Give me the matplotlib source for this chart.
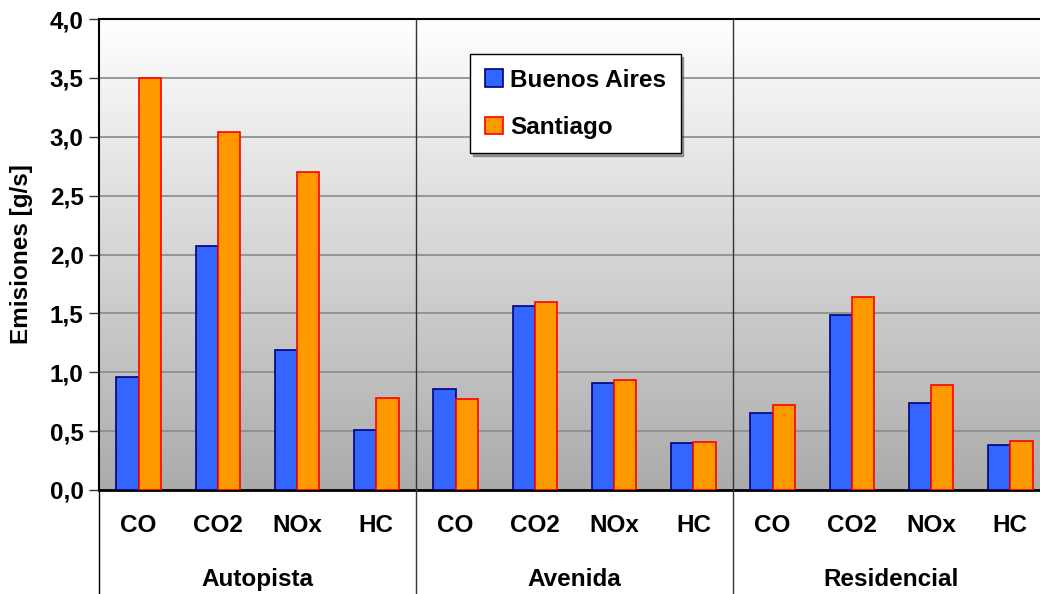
import matplotlib.pyplot as plt
import numpy as np
from matplotlib.colors import LinearSegmentedColormap

plt.rcParams['font.family'] = ['Liberation Sans', 'DejaVu Sans']
plt.rcParams['font.weight'] = 'bold'

grupos = ['Autopista', 'Avenida', 'Residencial']
contaminantes = ['CO', 'CO2', 'NOx', 'HC']
buenos_aires = [0.96, 2.07, 1.19, 0.51,
                0.86, 1.56, 0.91, 0.40,
                0.65, 1.49, 0.74, 0.38]
santiago = [3.50, 3.04, 2.70, 0.78,
            0.77, 1.60, 0.93, 0.41,
            0.72, 1.64, 0.89, 0.42]
yticks = np.arange(0, 4.01, 0.5)

FS = 17.5
W, H = 1040, 594
fig = plt.figure(figsize=(W / 100, H / 100), dpi=100)
# right edge of the plot runs past the figure border
ax = fig.add_axes([99 / W, 1 - 490 / H, 951 / W, 471 / H])

n = len(buenos_aires)
x = np.arange(n)

# vertical white-to-grey gradient background
grad = np.linspace(1, 0, 256).reshape(-1, 1)
cmap = LinearSegmentedColormap.from_list('fondo', ['#ababab', '#ffffff'])
ax.imshow(grad, aspect='auto', cmap=cmap, extent=(-0.5, n - 0.5, 0, 4.0),
          origin='upper', zorder=0)
ax.set_xlim(-0.5, n - 0.5)
ax.set_ylim(0, 4.0)

for y in yticks[1:-1]:
    ax.axhline(y, color='#8a8a8a', lw=1.2, zorder=1)

w = 0.28
ax.bar(x - w / 2, buenos_aires, w, color='#3366ff', edgecolor='#000080',
       lw=1.2, zorder=3, label='Buenos Aires')
ax.bar(x + w / 2, santiago, w, color='#ff9900', edgecolor='#ff0000',
       lw=1.2, zorder=3, label='Santiago')

# separators between groups, running down through the label area
for gx in [3.5, 7.5]:
    ax.plot([gx, gx], [1.0, -0.221], transform=ax.get_xaxis_transform(),
            color='#333333', lw=1, clip_on=False, zorder=4)
ax.plot([-0.5, -0.5], [0, -0.221], transform=ax.get_xaxis_transform(),
        color='black', lw=1, clip_on=False)

ax.set_xticks(x)
ax.set_xticklabels(contaminantes * len(grupos), fontsize=FS, fontweight='bold')
ax.tick_params(axis='x', length=0, pad=17)
ax.set_yticks(yticks)
ax.set_yticklabels([f'{v:.1f}'.replace('.', ',') for v in yticks],
                   fontsize=FS, fontweight='bold')
ax.tick_params(axis='y', length=7, width=1, color='#333333', pad=4)

for i, g in enumerate(grupos):
    ax.text(i * 4 + 1.5, -0.191, g, transform=ax.get_xaxis_transform(),
            ha='center', va='center', fontsize=FS, fontweight='bold')

ax.set_ylabel('Emisiones [g/s]', fontsize=FS, fontweight='bold', labelpad=12)

ax.spines['left'].set_linewidth(1.5)
ax.spines['top'].set_linewidth(1.5)
ax.spines['bottom'].set_linewidth(2)
ax.spines['right'].set_visible(False)

leg = fig.legend(loc='upper left', bbox_to_anchor=(470 / W, 1 - 54 / H),
                 borderaxespad=0, fancybox=False, shadow=True,
                 edgecolor='black', framealpha=1,
                 prop={'size': FS, 'weight': 'bold'}, handlelength=0.75,
                 handleheight=0.75, labelspacing=1.0, borderpad=0.6,
                 handletextpad=0.3)
leg.get_frame().set_linewidth(1)

fig.savefig('out.png', dpi=100)
